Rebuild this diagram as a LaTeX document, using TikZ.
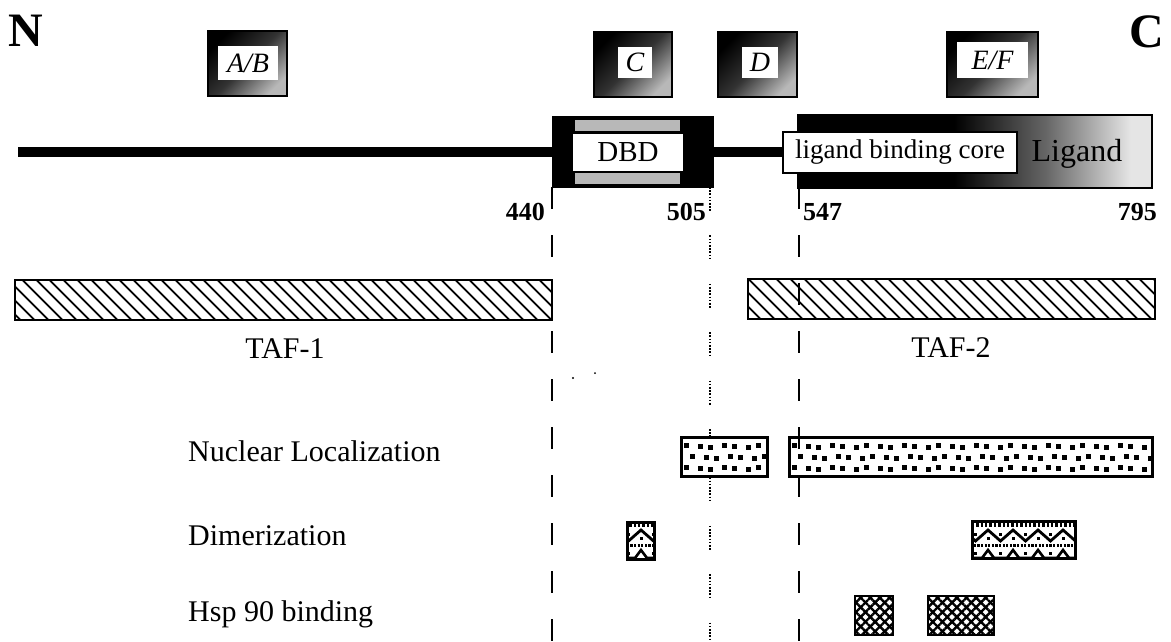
\documentclass[tikz,border=0pt]{standalone}
\usepackage{fontspec}
\setmainfont{Liberation Serif}
\usetikzlibrary{patterns.meta}
\newcommand\myfs[1]{\fontsize{#1pt}{#1pt}\selectfont}
\pgfdeclarehorizontalshading{ligshade}{100bp}{color(0bp)=(black); color(25bp)=(black); color(47bp)=(black); color(60bp)=(black!60); color(72bp)=(black!10); color(100bp)=(black!10)}
\newcommand\dimdraw[3]{% #1 first peak x (left of box), #2 periods, #3 right end x
  \draw[line width=3.5pt, dash pattern=on 2.4pt off 2pt] (#1,525) -- (#3,525);
  \draw[line width=2.8pt] (#1,530) \foreach \j in {1,...,#2}{ -- ++(12.5,11) -- ++(12.5,-11)};
  \foreach \j in {0,...,#2}{
    \fill ({#1+25*\j-1.5},537) rectangle ++(3,3);
    \fill ({#1+25*\j+12.5-1.5},532.5) rectangle ++(3,3);
    \fill ({#1+25*\j+12.5-1.5},551.5) rectangle ++(3,3);
  }
  \draw[line width=2.6pt, dash pattern=on 2.2pt off 1.4pt] (#1,545.5) -- (#3,545.5);
  \draw[line width=2.6pt] (#1-6,558) \foreach \j in {1,...,#2}{ -- ++(6,-8) -- ++(6,8) -- ++(13,0)};
}
\newcommand\sqdraw[2]{% #1 left x, #2 number of columns
  \foreach \r in {0,1,2}{
    \foreach \c in {0,...,#2}{
      \fill ({#1+2+12*\c+6*mod(\r,2)+1.5*mod(\c,2)}, {443+11*\r+1.2*mod(\c,3)}) rectangle ++(5,4.6);
    }
  }
}
\begin{document}
\begin{tikzpicture}[x=1pt,y=-1pt,
  lbl/.style={inner sep=0pt, font=\myfs{30}},
  num/.style={inner sep=0pt, font=\bfseries\myfs{26}},
  regframe/.style={draw=black, line width=1.5pt, top color=black, bottom color=black!28, middle color=black!80, shading angle=45, minimum width=#1, minimum height=65pt, inner sep=0pt},
  reginner/.style={fill=white, inner sep=0pt, font=\itshape\myfs{28}},
  tafbar/.style={draw, line width=2.4pt, preaction={fill=white}, pattern={Lines[angle=-45,distance=10.5pt,line width=2.1pt]}, minimum height=40pt, inner sep=0pt},
  nlbar/.style={fill=white, minimum height=38pt, inner sep=0pt},
  hspbox/.style={draw, line width=2.8pt, preaction={fill=white}, pattern={Lines[angle=45,distance=6.8pt,line width=2.4pt]}, postaction={pattern={Lines[angle=-45,distance=6.8pt,line width=2.4pt]}}, minimum height=39pt, inner sep=0pt},
  dimbox/.style={fill=white, minimum height=36pt, inner sep=0pt},
  guide/.style={line width=2.4pt, dash pattern=on 22pt off 26pt},
  dotguide/.style={line width=2.6pt, dash pattern=on 1.6pt off 1.6pt on 1.6pt off 1.6pt on 1.6pt off 1.6pt on 1.6pt off 1.6pt on 1.6pt off 1.6pt on 1.6pt off 1.6pt on 1.6pt off 1.6pt on 1.6pt off 24.4pt},
]
\useasboundingbox (0,0) rectangle (1171,641);

% termini
\node (nterm) [inner sep=0pt, font=\bfseries\myfs{48}] at (26,31) {N};
\node (cterm) [inner sep=0pt, font=\bfseries\myfs{48}] at (1147,32) {C};

% region boxes
\node (abf) [regframe=79pt] at (247.5,63.5) {};
\node (ab) [reginner, minimum width=60pt, minimum height=34pt] at (248,63) {A/B};
\node (cf) [regframe=78pt] at (633,64.5) {};
\node (c) [reginner, minimum width=34pt, minimum height=31pt] at (635,62.5) {C};
\node (df) [regframe=79pt] at (757.5,64.5) {};
\node (d) [reginner, minimum width=36pt, minimum height=31pt] at (760,62.5) {D};
\node (eff) [regframe=91pt] at (992.5,64.5) {};
\node (ef) [reginner, minimum width=71pt, minimum height=36pt] at (992.5,60) {E/F};

% guide lines (under bars)
\coordinate (g440t) at (552,187); \coordinate (g440b) at (552,641);
\coordinate (g505t) at (710,187); \coordinate (g505b) at (710,641);
\coordinate (g547t) at (799,187); \coordinate (g547b) at (799,641);
\draw[guide] (g440t) -- (g440b);
\draw[dotguide] (g505t) -- (g505b);

% protein line
\coordinate (nstart) at (18,152);
\node (dbd) [fill=black, minimum width=162pt, minimum height=72pt, inner sep=0pt] at (633,152) {};
\fill[black!28] (575,120) rectangle (680,131);
\fill[black!28] (575,173) rectangle (680,184);
\node (dbdt) [fill=white, minimum width=110pt, minimum height=37pt, inner sep=0pt, font=\myfs{29}] at (628,152) {DBD};
\node (lig) [draw, line width=1.2pt, shading=ligshade, minimum width=354pt, minimum height=73pt, inner sep=0pt] at (975,151.5) {};
\node (ligt) [inner sep=0pt, font=\myfs{32}] at (1077,154) {Ligand};
\node (lbc) [draw, fill=white, line width=2pt, minimum width=234pt, minimum height=41pt, inner sep=0pt, font=\myfs{27}] at (900,152) {ligand binding core};
\draw[line width=9.5pt] (nstart) -- (dbd.west);
\draw[line width=9.5pt] (dbd.east) -- (lbc.west);

% residue numbers
\node (n440) [num, anchor=base east] at (545,220) {440};
\node (n505) [num, anchor=base east] at (706,220) {505};
\node (n547) [num, anchor=base west] at (803,220) {547};
\node (n795) [num, anchor=base east] at (1157,220) {795};

% TAF bars
\node (taf1) [tafbar, minimum width=537pt] at (283.5,300) {};
\node (taf2) [tafbar, minimum width=407pt] at (951.5,299) {};
\node (taf1t) [lbl, anchor=base] at (285,358) {TAF-1};
\node (taf2t) [lbl, anchor=base] at (951,357) {TAF-2};

% functions
\node (nlt) [lbl, anchor=base west] at (188,461) {Nuclear Localization};
\node (dimt) [lbl, anchor=base west] at (188,545) {Dimerization};
\node (hspt) [lbl, anchor=base west] at (188,621) {Hsp 90 binding};

\node (nl1) [nlbar, minimum width=85pt] at (724.5,457) {};
\begin{scope}
  \clip (nl1.north west) rectangle (nl1.south east);
  \sqdraw{682}{7}
\end{scope}
\draw[line width=2.8pt] (nl1.north west) rectangle (nl1.south east);

\node (nl2) [nlbar, minimum width=362pt] at (971,457) {};
\begin{scope}
  \clip (nl2.north west) rectangle (nl2.south east);
  \sqdraw{790}{30}
\end{scope}
\draw[line width=2.8pt] (nl2.north west) rectangle (nl2.south east);

\node (dim1) [dimbox, minimum width=26pt] at (641,541) {};
\begin{scope}
  \clip (dim1.north west) rectangle (dim1.south east);
  \dimdraw{616}{2}{660}
\end{scope}
\draw[line width=2.8pt] (dim1.north west) rectangle (dim1.south east);

\node (dim2) [dimbox, minimum width=102pt] at (1024,540) {};
\begin{scope}
  \clip (dim2.north west) rectangle (dim2.south east);
  \dimdraw{963}{5}{1080}
\end{scope}
\draw[line width=2.8pt] (dim2.north west) rectangle (dim2.south east);

\node (hsp1) [hspbox, minimum width=38pt] at (874,615.5) {};
\node (hsp2) [hspbox, minimum width=66pt] at (961,615.5) {};

% 547 guide over bars
\draw[guide, line width=2.6pt] (g547t) -- (g547b);

% scan specks
\fill (573,378) circle (1.2pt);
\fill (595,373) circle (1pt);
\end{tikzpicture}
\end{document}
